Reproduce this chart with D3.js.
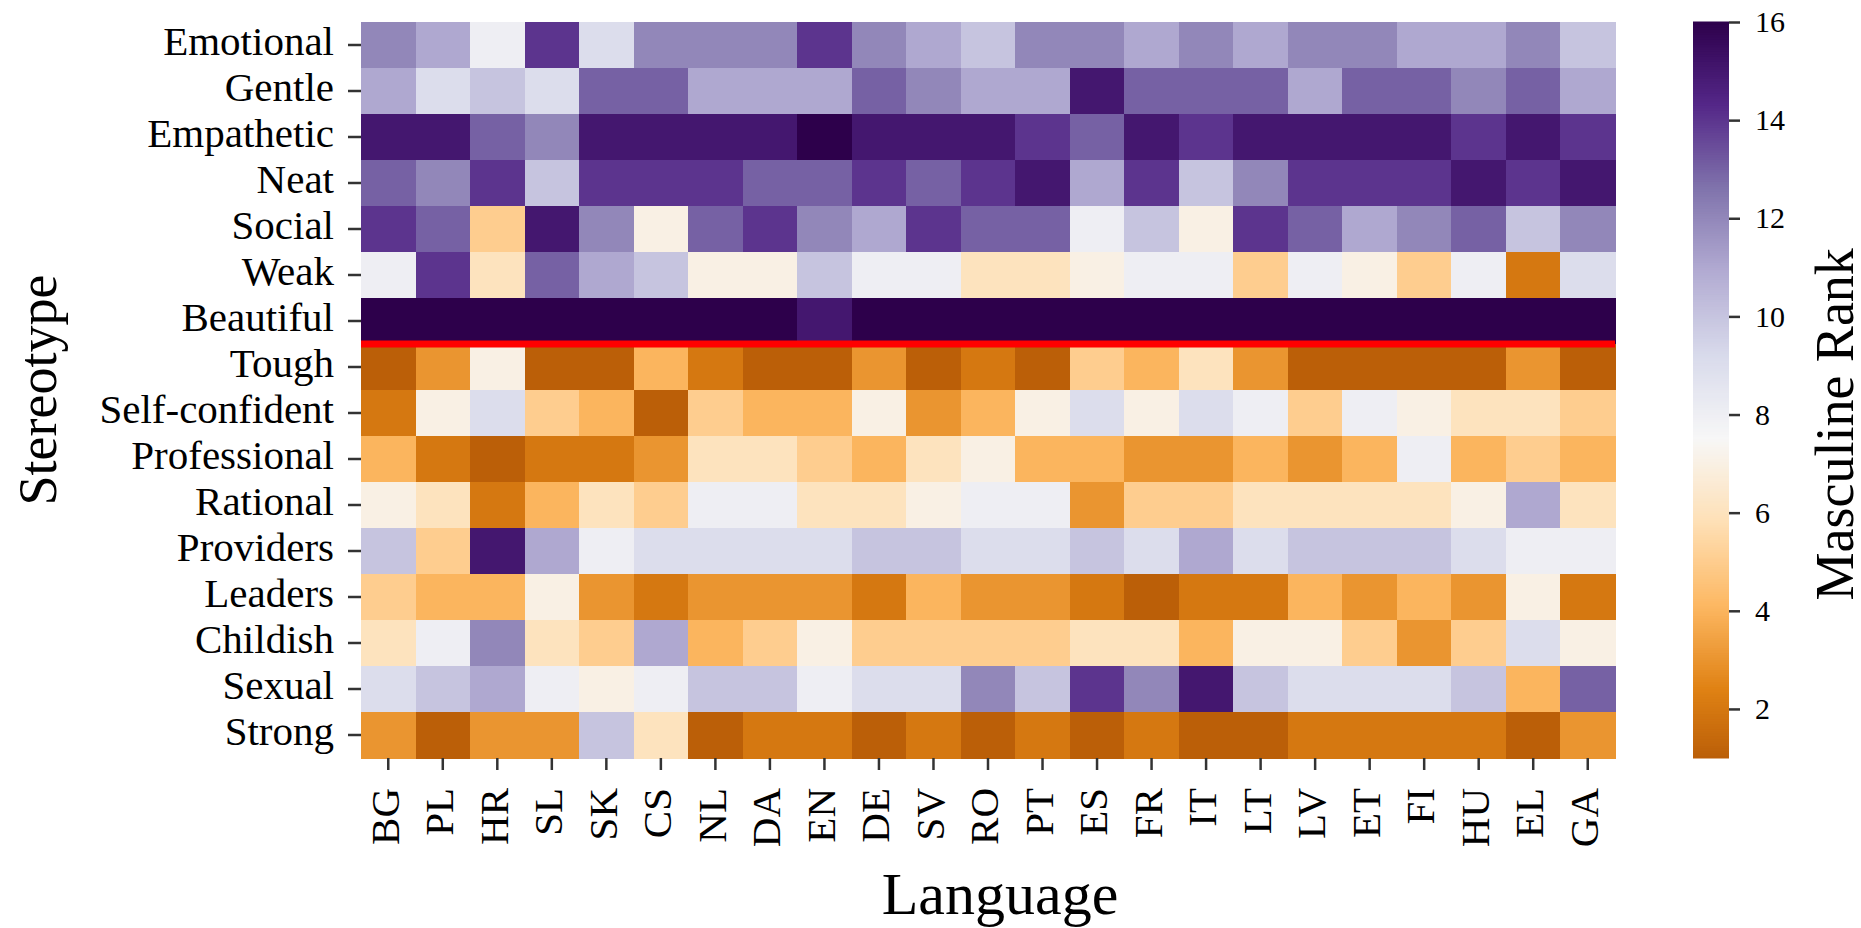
<!DOCTYPE html>
<html>
<head>
<meta charset="utf-8">
<script src="https://cdn.jsdelivr.net/npm/d3@7"></script>
<style>
  html, body { margin: 0; padding: 0; background: #ffffff; }
  svg { display: block; font-family: "Liberation Serif", "Times New Roman", serif; }
</style>
</head>
<body>
<svg id="chart"></svg>
<script>
/////////////////////////////////////////////
////////////// Data /////////////////////////
/////////////////////////////////////////////

const languages = ["BG", "PL", "HR", "SL", "SK", "CS", "NL", "DA", "EN", "DE", "SV", "RO",
  "PT", "ES", "FR", "IT", "LT", "LV", "ET", "FI", "HU", "EL", "GA"];

const stereotypes = ["Emotional", "Gentle", "Empathetic", "Neat", "Social", "Weak", "Beautiful",
  "Tough", "Self-confident", "Professional", "Rational", "Providers", "Leaders", "Childish",
  "Sexual", "Strong"];

// masculine rank of each stereotype, one value per language (same order as languages)
const emotional     = [12, 11, 8, 14, 9, 12, 12, 12, 14, 12, 11, 10, 12, 12, 11, 12, 11, 12, 12, 11, 11, 12, 10];
const gentle        = [11, 9, 10, 9, 13, 13, 11, 11, 11, 13, 12, 11, 11, 15, 13, 13, 13, 11, 13, 13, 12, 13, 11];
const empathetic    = [15, 15, 13, 12, 15, 15, 15, 15, 16, 15, 15, 15, 14, 13, 15, 14, 15, 15, 15, 15, 14, 15, 14];
const neat          = [13, 12, 14, 10, 14, 14, 14, 13, 13, 14, 13, 14, 15, 11, 14, 10, 12, 14, 14, 14, 15, 14, 15];
const social        = [14, 13, 5, 15, 12, 7, 13, 14, 12, 11, 14, 13, 13, 8, 10, 7, 14, 13, 11, 12, 13, 10, 12];
const weak          = [8, 14, 6, 13, 11, 10, 7, 7, 10, 8, 8, 6, 6, 7, 8, 8, 5, 8, 7, 5, 8, 2, 9];
const beautiful     = [16, 16, 16, 16, 16, 16, 16, 16, 15, 16, 16, 16, 16, 16, 16, 16, 16, 16, 16, 16, 16, 16, 16];
const tough         = [1, 3, 7, 1, 1, 4, 2, 1, 1, 3, 1, 2, 1, 5, 4, 6, 3, 1, 1, 1, 1, 3, 1];
const selfConfident = [2, 7, 9, 5, 4, 1, 5, 4, 4, 7, 3, 4, 7, 9, 7, 9, 8, 5, 8, 7, 6, 6, 5];
const professional  = [4, 2, 1, 2, 2, 3, 6, 6, 5, 4, 6, 7, 4, 4, 3, 3, 4, 3, 4, 8, 4, 5, 4];
const rational      = [7, 6, 2, 4, 6, 5, 8, 8, 6, 6, 7, 8, 8, 3, 5, 5, 6, 6, 6, 6, 7, 11, 6];
const providers     = [10, 5, 15, 11, 8, 9, 9, 9, 9, 10, 10, 9, 9, 10, 9, 11, 9, 10, 10, 10, 9, 8, 8];
const leaders       = [5, 4, 4, 7, 3, 2, 3, 3, 3, 2, 4, 3, 3, 2, 1, 2, 2, 4, 3, 4, 3, 7, 2];
const childish      = [6, 8, 12, 6, 5, 11, 4, 5, 7, 5, 5, 5, 5, 6, 6, 4, 7, 7, 5, 3, 5, 9, 7];
const sexual        = [9, 10, 11, 8, 7, 8, 10, 10, 8, 9, 9, 12, 10, 14, 12, 15, 10, 9, 9, 9, 10, 4, 13];
const strong        = [3, 1, 3, 3, 10, 6, 1, 2, 2, 1, 2, 1, 2, 1, 2, 1, 1, 2, 2, 2, 2, 1, 3];

const rankRows = [emotional, gentle, empathetic, neat, social, weak, beautiful, tough,
  selfConfident, professional, rational, providers, leaders, childish, sexual, strong];

// the red separator sits below this stereotype
const splitAfter = "Beautiful";

const colorbarTicks = [2, 4, 6, 8, 10, 12, 14, 16];
const rankMin = 1;
const rankMax = 16;

/////////////////////////////////////////////
////////////// Constants ////////////////////
/////////////////////////////////////////////

const width = 1861;
const height = 928;
const heat = { left: 361, right: 1615, top: 22, bottom: 758 };
const bar = { left: 1693, width: 36 };

const tickFont = 41;
const titleFont = 54;
const xTitleFont = 60;
const cbFont = 30;
const inkColour = "#000000";
const tickColour = "#333333";

// matplotlib PuOr stops (orange -> purple)
const puorStops = ["#7f3b08", "#b35806", "#e08214", "#fdb863", "#fee0b6", "#f7f7f7",
  "#d8daeb", "#b2abd2", "#8073ac", "#542788", "#2d004b"];

/////////////////////////////////////////////
////////////// Chart ////////////////////////
/////////////////////////////////////////////

function drawChart() {
  const cells = [];
  rankRows.forEach((row, i) => {
    row.forEach((v, j) => cells.push({ stereotype: stereotypes[i], language: languages[j], rank: v }));
  });

  const svg = d3.select("#chart").attr("width", width).attr("height", height);

  /// 1. Scales ///
  const xScale = d3.scaleBand().domain(languages).range([heat.left, heat.right]);
  const yScale = d3.scaleBand().domain(stereotypes).range([heat.top, heat.bottom]);

  // seaborn with center=7.5 -> normalised span is [-1, 16]
  const norm = d3.scaleLinear().domain([-1, rankMax]).range([0, 1]);
  const cmap = d3.scaleLinear()
    .domain(d3.range(puorStops.length).map(i => i / (puorStops.length - 1)))
    .range(puorStops)
    .interpolate(d3.interpolateRgb);
  const colour = v => cmap(norm(v));

  /// 2. Heatmap cells ///
  svg.append("g")
    .selectAll("rect")
    .data(cells)
    .join("rect")
      .attr("x", d => xScale(d.language))
      .attr("y", d => yScale(d.stereotype))
      .attr("width", xScale.bandwidth() + 0.5)
      .attr("height", yScale.bandwidth() + 0.5)
      .attr("fill", d => colour(d.rank))
      .attr("shape-rendering", "crispEdges");

  // red separator line
  const splitY = yScale(splitAfter) + yScale.bandwidth();
  svg.append("line")
    .attr("x1", heat.left)
    .attr("x2", heat.right)
    .attr("y1", splitY)
    .attr("y2", splitY)
    .attr("stroke", "#ff0000")
    .attr("stroke-width", 7);

  /// 3. Axes ///
  const yAxis = g => g
    .attr("transform", `translate(${heat.left}, 0)`)
    .call(d3.axisLeft(yScale).tickSize(13).tickPadding(14))
    .call(g => g.select(".domain").remove())
    .call(g => g.selectAll(".tick line").attr("stroke", tickColour).attr("stroke-width", 2.5))
    .call(g => g.selectAll(".tick text")
      .attr("fill", inkColour)
      .attr("font-size", tickFont)
      .attr("font-family", "Liberation Serif, Times New Roman, serif")
      .attr("dy", "0.25em"));
  svg.append("g").call(yAxis);

  const xAxis = g => g
    .attr("transform", `translate(0, ${heat.bottom})`)
    .call(d3.axisBottom(xScale).tickSize(12))
    .call(g => g.select(".domain").remove())
    .call(g => g.selectAll(".tick line").attr("stroke", tickColour).attr("stroke-width", 2.5))
    .call(g => g.selectAll(".tick text")
      .attr("fill", inkColour)
      .attr("font-size", tickFont)
      .attr("font-family", "Liberation Serif, Times New Roman, serif")
      .attr("transform", "rotate(-90)")
      .attr("text-anchor", "end")
      .attr("x", -30)
      .attr("y", 0)
      .attr("dy", "0.25em"));
  svg.append("g").call(xAxis);

  // axis titles
  svg.append("text")
    .attr("transform", `translate(56, ${(heat.top + heat.bottom) / 2}) rotate(-90)`)
    .attr("text-anchor", "middle")
    .attr("font-size", titleFont)
    .attr("fill", inkColour)
    .text("Stereotype");

  svg.append("text")
    .attr("x", (heat.left + heat.right) / 2 + 12)
    .attr("y", 914)
    .attr("text-anchor", "middle")
    .attr("font-size", xTitleFont)
    .attr("fill", inkColour)
    .text("Language");

  /// 4. Colour bar ///
  const cbScale = d3.scaleLinear().domain([rankMin, rankMax]).range([heat.bottom, heat.top]);
  const step = (rankMax - rankMin) / 300;
  const cbSteps = d3.range(rankMin, rankMax, step);
  svg.append("g")
    .selectAll("rect")
    .data(cbSteps)
    .join("rect")
      .attr("x", bar.left)
      .attr("width", bar.width)
      .attr("y", d => cbScale(d + step) - 0.5)
      .attr("height", d => cbScale(d) - cbScale(d + step) + 1)
      .attr("fill", d => colour(d));

  const cbAxis = g => g
    .attr("transform", `translate(${bar.left + bar.width}, 0)`)
    .call(d3.axisRight(cbScale).tickValues(colorbarTicks).tickSize(11).tickPadding(15))
    .call(g => g.select(".domain").remove())
    .call(g => g.selectAll(".tick line").attr("stroke", tickColour).attr("stroke-width", 2.5))
    .call(g => g.selectAll(".tick text")
      .attr("fill", inkColour)
      .attr("font-size", cbFont)
      .attr("font-family", "Liberation Serif, Times New Roman, serif"));
  svg.append("g").call(cbAxis);

  svg.append("text")
    .attr("transform", `translate(1853, ${cbScale(7.8)}) rotate(-90)`)
    .attr("text-anchor", "middle")
    .attr("font-size", titleFont)
    .attr("fill", inkColour)
    .text("Masculine Rank");
}

drawChart();
</script>
</body>
</html>
